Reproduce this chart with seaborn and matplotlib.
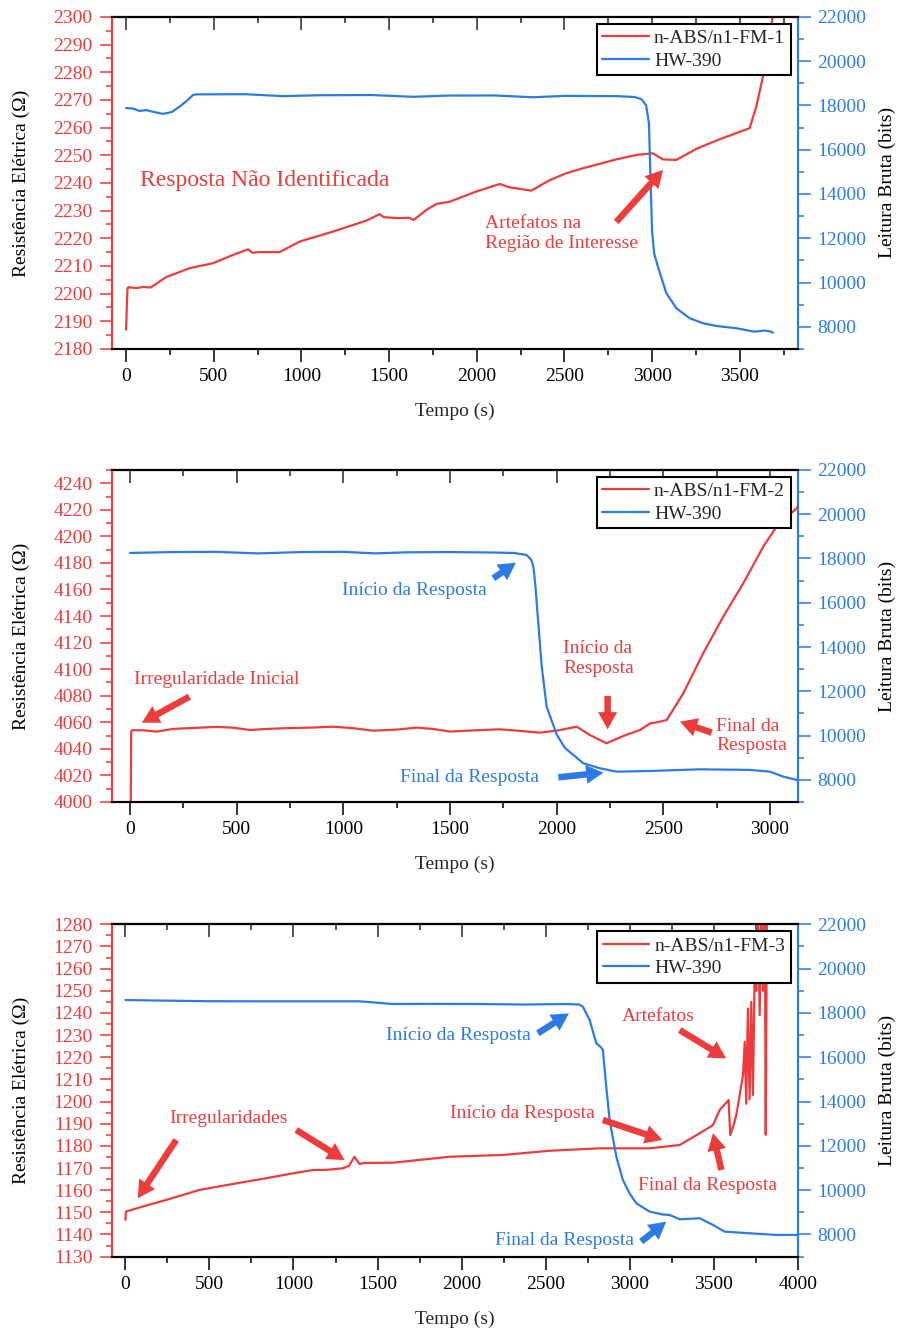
import matplotlib
matplotlib.use("Agg")
import matplotlib.pyplot as plt
from matplotlib.ticker import MultipleLocator, FixedLocator
from matplotlib.lines import Line2D
import seaborn as sns
import numpy as np

# ---- data ----
# panel 1 : n-ABS/n1-FM-1
t_r1 = [0, 8, 12, 60, 100, 140, 230, 363, 497, 611, 696, 720, 760, 876, 990, 1180, 1371,
        1446, 1470, 1550, 1617, 1640, 1712, 1770, 1845, 1998, 2131, 2188, 2311, 2416, 2511,
        2606, 2796, 2910, 3004, 3061, 3138, 3252, 3366, 3480, 3556, 3594, 3632, 3690]
res1 = [2187, 2201.5, 2202.3, 2202, 2202.4, 2202.2, 2206, 2209.2, 2211, 2214, 2216, 2214.8,
        2215, 2215, 2218.8, 2222.4, 2226.4, 2228.7, 2227.6, 2227.3, 2227.4, 2226.6, 2230.2,
        2232.4, 2233.2, 2236.9, 2239.6, 2238.4, 2237.2, 2241, 2243.5, 2245.3, 2248.5, 2250.1,
        2250.7, 2248.5, 2248.3, 2252.3, 2255.3, 2258, 2259.8, 2267.6, 2278.4, 2301]
t_b1 = [0, 40, 78, 115, 160, 211, 260, 306, 345, 382, 400, 680, 895, 1100, 1400, 1637, 1845,
        2100, 2321, 2500, 2800, 2900, 2940, 2966, 2982, 2992, 3000, 3012, 3033, 3081, 3138,
        3214, 3290, 3366, 3480, 3584, 3641, 3670, 3689]
hw1 = [17880, 17860, 17750, 17790, 17700, 17620, 17700, 17950, 18200, 18470, 18500, 18507,
       18420, 18460, 18470, 18390, 18446, 18450, 18370, 18430, 18420, 18380, 18280, 18000,
       17200, 14330, 12300, 11300, 10720, 9520, 8840, 8390, 8160, 8040, 7935, 7780, 7830,
       7800, 7740]

# panel 2 : n-ABS/n1-FM-2
t_r2 = [3, 5, 10, 60, 125, 200, 328, 406, 480, 562, 640, 719, 850, 953, 1050, 1140, 1250,
        1344, 1420, 1500, 1620, 1734, 1830, 1922, 2010, 2094, 2156, 2234, 2312, 2391, 2438,
        2470, 2516, 2594, 2687, 2781, 2875, 2969, 3031, 3125, 3135]
res2 = [4001, 4053, 4054, 4054, 4053, 4055, 4056, 4056.5, 4056, 4054.2, 4055, 4055.5, 4056,
        4056.7, 4055.5, 4053.7, 4054.5, 4056, 4055, 4053, 4054, 4054.7, 4053.5, 4052.2, 4054,
        4056.7, 4050.4, 4044.2, 4049.7, 4054.2, 4059.2, 4060, 4061.7, 4081.9, 4112, 4139.5,
        4164.7, 4192.3, 4207.3, 4221.1, 4224]
t_b2 = [0, 200, 400, 600, 800, 1000, 1150, 1300, 1500, 1700, 1800, 1859, 1880, 1891, 1900,
        1909, 1930, 1953, 2000, 2039, 2125, 2203, 2281, 2438, 2672, 2906, 3000, 3063, 3125, 3135]
hw2 = [18250, 18290, 18300, 18230, 18290, 18300, 18230, 18280, 18290, 18270, 18250, 18160,
       17950, 17630, 16800, 15675, 13113, 11305, 10050, 9440, 8748, 8523, 8370, 8400, 8476,
       8450, 8370, 8145, 7994, 7960]

# panel 3 : n-ABS/n1-FM-3
t_r3 = [0, 3, 8, 103, 242, 440, 639, 837, 996, 1115, 1200, 1294, 1330, 1363, 1393, 1420, 1591,
        1929, 2246, 2524, 2821, 3119, 3298, 3417, 3496, 3536, 3589, 3599, 3615, 3635, 3655,
        3675, 3685, 3694, 3704, 3714, 3724, 3734, 3744, 3754, 3764, 3774, 3784, 3794, 3804,
        3810, 3817]
res3 = [1146.6, 1150.3, 1150.5, 1152.6, 1155.6, 1160.1, 1162.8, 1165.4, 1167.6, 1169.1,
        1169.2, 1169.9, 1171, 1175.1, 1171.8, 1172.3, 1172.4, 1175.1, 1175.9, 1177.8, 1178.9,
        1178.9, 1180.4, 1185.7, 1189.4, 1196.2, 1200.7, 1184.9, 1188.5, 1193.9, 1203, 1212,
        1227, 1199, 1242, 1201, 1245, 1203, 1257, 1250, 1290, 1239, 1290, 1250, 1290, 1185, 1290]
t_b3 = [0, 200, 500, 800, 1100, 1393, 1500, 1591, 1800, 2100, 2375, 2623, 2700, 2722, 2762,
        2802, 2830, 2841, 2861, 2881, 2921, 2960, 3000, 3040, 3119, 3200, 3238, 3298, 3417,
        3496, 3565, 3714, 3873, 4000]
hw3 = [18584, 18560, 18530, 18525, 18525, 18525, 18460, 18404, 18410, 18404, 18380, 18404,
       18380, 18283, 17682, 16630, 16450, 16328, 14671, 13170, 11513, 10461, 9850, 9410, 9032,
       8900, 8882, 8687, 8733, 8431, 8130, 8055, 7980, 7980]

RED = '#EE3B3B'
BLUE = '#2C7BE5'

sns.set_style('ticks')
plt.rcParams['font.family'] = ['Liberation Serif', 'DejaVu Serif']
plt.rcParams['mathtext.fontset'] = 'stix'

ARROW = "simple,head_length=0.95,head_width=1.05,tail_width=0.36"


def draw_panel(fig, rect, t_r, res, t_b, hw, label, xlim, ylim, ymaj, ymin_, yticks_max):
    ax = fig.add_axes(rect)
    sns.lineplot(x=t_r, y=res, ax=ax, color=RED, lw=1.6, estimator=None, sort=False, legend=False)
    ax.set_xlim(*xlim)
    ax.set_ylim(*ylim)
    ax.yaxis.set_major_locator(FixedLocator(np.arange(ylim[0], yticks_max + 1, ymaj)))
    ax.yaxis.set_minor_locator(MultipleLocator(ymin_))
    ax.xaxis.set_major_locator(MultipleLocator(500))
    ax.xaxis.set_minor_locator(MultipleLocator(250))
    ax.tick_params(axis='both', which='major', direction='out', length=9, width=1.1, labelsize=14, pad=5)
    ax.tick_params(axis='both', which='minor', direction='out', length=4.5, width=1.1)
    ax.tick_params(axis='y', which='both', color=RED, labelcolor=RED)
    ax.tick_params(axis='x', which='both', color='black', labelcolor='black')

    top = ax.secondary_xaxis('top')
    top.xaxis.set_major_locator(MultipleLocator(500))
    top.xaxis.set_minor_locator(MultipleLocator(250))
    top.tick_params(which='major', direction='in', length=9, width=1.1, labeltop=False)
    top.tick_params(which='minor', direction='in', length=4.5, width=1.1)
    top.spines['top'].set_linewidth(1.5)

    ax2 = ax.twinx()
    sns.lineplot(x=t_b, y=hw, ax=ax2, color=BLUE, lw=1.6, estimator=None, sort=False, legend=False)
    ax2.set_ylim(7000, 22000)
    ax2.yaxis.set_major_locator(FixedLocator(np.arange(8000, 22001, 2000)))
    ax2.yaxis.set_minor_locator(MultipleLocator(1000))
    ax2.tick_params(axis='y', which='major', direction='out', length=9, width=1.1,
                    labelsize=14, pad=5, color=BLUE, labelcolor=BLUE)
    ax2.tick_params(axis='y', which='minor', direction='out', length=4.5, width=1.1, color=BLUE)

    for a in (ax, ax2):
        for s in a.spines.values():
            s.set_linewidth(1.5)
        a.spines['left'].set_color(RED)
        a.spines['right'].set_color(BLUE)
        a.spines['top'].set_color('black')
        a.spines['bottom'].set_color('black')

    ax.set_xlabel('Tempo (s)', fontsize=14)
    ax.set_ylabel('Resistência Elétrica (Ω)', fontsize=14, color='black')
    ax2.set_ylabel('Leitura Bruta (bits)', fontsize=14, color='black')
    ax.xaxis.set_label_coords(0.5, -0.163)
    ax.yaxis.set_label_coords(-0.1195, 0.5)
    ax2.yaxis.set_label_coords(1.118, 0.5)

    handles = [Line2D([], [], color=RED, lw=1.6), Line2D([], [], color=BLUE, lw=1.6)]
    leg = ax2.legend(handles, [label, 'HW-390'], loc='upper right', fontsize=14,
                     frameon=True, fancybox=False, edgecolor='black', framealpha=1,
                     borderaxespad=0.35, handlelength=2.4, handletextpad=0.25,
                     labelspacing=0.25, borderpad=0.3)
    leg.get_frame().set_linewidth(1.5)
    return ax, ax2


def note(ax, ax2, x, y, s, color, size=14):
    ax2.text(x, y, s, transform=ax.transData, color=color, fontsize=size,
             ha='left', va='center', linespacing=1.2)


def arrow(ax, ax2, tail, tip, color):
    ax2.annotate('', xy=tip, xytext=tail, xycoords=ax.transData, textcoords=ax.transData,
                 arrowprops=dict(arrowstyle=ARROW, mutation_scale=13, color=color,
                                 lw=0, shrinkA=0, shrinkB=0))


fig = plt.figure(figsize=(9.01, 13.4), dpi=100)

# panel 1
ax, ax2 = draw_panel(fig, [0.1243, 0.7396, 0.761, 0.2478], t_r1, res1, t_b1, hw1,
                     'n-ABS/n1-FM-1', (-80, 3830), (2180, 2300), 10, 5, 2300)
note(ax, ax2, 78, 2240.7, 'Resposta Não Identificada', RED, size=17)
note(ax, ax2, 2045, 2221.7, 'Artefatos na\nRegião de Interesse', RED)
arrow(ax, ax2, (2796, 2225.9), (3062, 2244.7), RED)

# panel 2
ax, ax2 = draw_panel(fig, [0.1243, 0.4015, 0.761, 0.2478], t_r2, res2, t_b2, hw2,
                     'n-ABS/n1-FM-2', (-85, 3130), (4000, 4250), 20, 10, 4240)
note(ax, ax2, 16, 4091.9, 'Irregularidade Inicial', RED)
arrow(ax, ax2, (278, 4079.3), (55, 4059.7), RED)
note(ax, ax2, 992, 4158.9, 'Início da Resposta', BLUE)
arrow(ax, ax2, (1703, 4168.4), (1809, 4180.2), BLUE)
note(ax, ax2, 2031, 4108, 'Início da\nResposta', RED)
arrow(ax, ax2, (2239, 4079.8), (2239, 4054.7), RED)
note(ax, ax2, 2747, 4049.8, 'Final da\nResposta', RED)
arrow(ax, ax2, (2727, 4052.2), (2578, 4060.5), RED)
note(ax, ax2, 1266, 4018.6, 'Final da Resposta', BLUE)
arrow(ax, ax2, (2008, 4018.6), (2219, 4022.1), BLUE)

# panel 3
ax, ax2 = draw_panel(fig, [0.1243, 0.0622, 0.761, 0.2480], t_r3, res3, t_b3, hw3,
                     'n-ABS/n1-FM-3', (-80, 4000), (1130, 1280), 10, 5, 1280)
note(ax, ax2, 262, 1192.5, 'Irregularidades', RED)
arrow(ax, ax2, (302, 1182.7), (73, 1156.4), RED)
arrow(ax, ax2, (1016, 1187.2), (1304, 1173.6), RED)
note(ax, ax2, 1552, 1230, 'Início da Resposta', BLUE)
arrow(ax, ax2, (2454, 1230.8), (2639, 1239.8), BLUE)
note(ax, ax2, 1929, 1194.7, 'Início da Resposta', RED)
arrow(ax, ax2, (2841, 1191.7), (3195, 1182.7), RED)
note(ax, ax2, 2951, 1238.3, 'Artefatos', RED)
arrow(ax, ax2, (3298, 1232.3), (3575, 1219.5), RED)
note(ax, ax2, 3049, 1161.9, 'Final da Resposta', RED)
arrow(ax, ax2, (3546, 1169.1), (3496, 1185.7), RED)
note(ax, ax2, 2202, 1137.5, 'Final da Resposta', BLUE)
arrow(ax, ax2, (3069, 1136.8), (3218, 1145.8), BLUE)

fig.savefig('out.png', dpi=100)
